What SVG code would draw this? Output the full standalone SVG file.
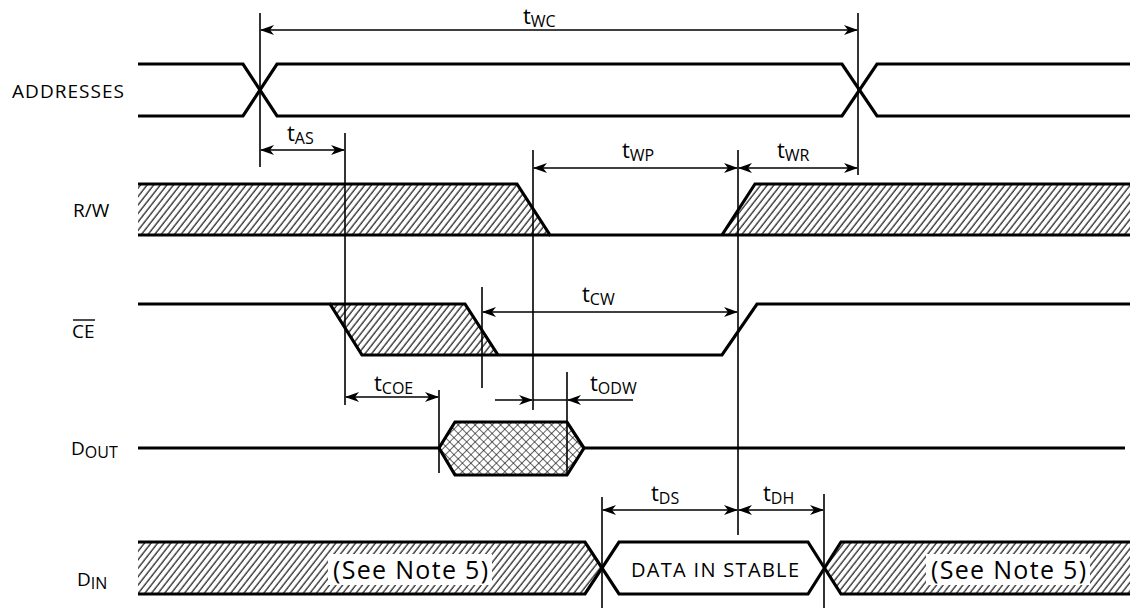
<svg xmlns="http://www.w3.org/2000/svg" width="1131" height="608" viewBox="0 0 1131 608">
<style>
.sig{fill:none;stroke:#000;stroke-width:3.2;stroke-linejoin:miter}
.vl{stroke:#000;stroke-width:1.6;fill:none}
.ar{stroke:#000;stroke-width:1.6;fill:none;marker-start:url(#ah);marker-end:url(#ah)}
.ae{stroke:#000;stroke-width:1.6;fill:none;marker-end:url(#ah)}
.lbl{font-family:"Open Sans","Liberation Sans",sans-serif;font-size:19px;fill:#000}
.t{font-family:"Open Sans","Liberation Sans",sans-serif;font-size:22px;fill:#000}
.sub{font-size:16px}
.note{font-family:"Open Sans","Liberation Sans",sans-serif;font-size:25px;fill:#000}
.data{font-family:"Open Sans","Liberation Sans",sans-serif;font-size:20px;fill:#000}
.hat{fill:url(#hatch);stroke:none}
</style>
<defs>
<pattern id="hatch" patternUnits="userSpaceOnUse" width="5.2" height="10" patternTransform="rotate(38)">
<line x1="1" y1="0" x2="1" y2="10" stroke="#000" stroke-width="1.1"/>
</pattern>
<pattern id="xhatch" patternUnits="userSpaceOnUse" width="6" height="6" patternTransform="rotate(45)">
<line x1="0" y1="0" x2="0" y2="6" stroke="#000" stroke-width="1.2"/>
<line x1="0" y1="0" x2="6" y2="0" stroke="#000" stroke-width="1.2"/>
</pattern>
<marker id="ah" viewBox="0 0 14 10" refX="13" refY="5" markerWidth="14" markerHeight="10" markerUnits="userSpaceOnUse" orient="auto-start-reverse">
<path d="M0,0 L14,5 L0,10 L4,5 z" fill="#000"/>
</marker>
</defs>

<g id="labels">
<text class="lbl" x="12" y="98" textLength="112" lengthAdjust="spacing">ADDRESSES</text>
<text class="lbl" x="73" y="217">R/W</text>
<g id="ce-label"><text class="lbl" x="72" y="338">CE</text><line x1="73" y1="320" x2="95" y2="320" stroke="#000" stroke-width="1.4"/></g>
<text class="lbl" x="71" y="455">D<tspan class="sub" dy="3">OUT</tspan></text>
<text class="lbl" x="77" y="586">D<tspan class="sub" dy="3">IN</tspan></text>
</g>

<g id="addresses">
<polyline class="sig" points="138,64 243,64 277,116 842,116 877,64 1130,64"/>
<polyline class="sig" points="138,116 243,116 277,64 842,64 877,116 1130,116"/>
</g>

<g id="rw">
<polygon class="hat" points="138,184 517,184 550,235 138,235"/>
<polygon class="hat" points="722,235 755,184 1130,184 1130,235"/>
<polyline class="sig" points="138,184 517,184 550,235 1130,235"/>
<polyline class="sig" points="722,235 755,184 1130,184"/>
<line class="sig" x1="138" y1="235" x2="550" y2="235"/>
</g>

<g id="ce">
<polygon class="hat" points="330,304 465,304 498,355 362,355"/>
<polyline class="sig" points="138,304 330,304 362,355 722,355 757,304 1130,304"/>
<polyline class="sig" points="330,304 465,304 498,355"/>
</g>

<g id="dout">
<polygon points="439,448 455,422 567,422 584,448 567,475 455,475" fill="url(#xhatch)" stroke="#000" stroke-width="3.2"/>
<line class="sig" x1="138" y1="448" x2="439" y2="448"/>
<line class="sig" x1="584" y1="448" x2="1125" y2="448"/>
</g>

<g id="din">
<polygon class="hat" points="138,542 585,542 602,568 585,594 138,594"/>
<polygon class="hat" points="824,568 841,542 1130,542 1130,594 841,594"/>
<rect x="328" y="554" width="164" height="31" fill="#fff"/>
<rect x="926" y="554" width="164" height="31" fill="#fff"/>
<polyline class="sig" points="138,542 585,542 619,594 808,594 841,542 1130,542"/>
<polyline class="sig" points="138,594 585,594 619,542 808,542 841,594 1130,594"/>
<text class="note" x="333" y="579" textLength="155" lengthAdjust="spacing">(See Note 5)</text>
<text class="note" x="931" y="579" textLength="155" lengthAdjust="spacing">(See Note 5)</text>
<text class="data" x="631" y="577" textLength="168" lengthAdjust="spacing">DATA IN STABLE</text>
</g>

<g id="connectors">
<line class="vl" x1="260" y1="13" x2="260" y2="167"/>
<line class="vl" x1="858" y1="13" x2="858" y2="175"/>
<line class="vl" x1="345" y1="133" x2="345" y2="405"/>
<line class="vl" x1="533" y1="150" x2="533" y2="410"/>
<line class="vl" x1="738" y1="150" x2="738" y2="535"/>
<line class="vl" x1="482" y1="287" x2="482" y2="388"/>
<line class="vl" x1="439" y1="390" x2="439" y2="473"/>
<line class="vl" x1="567" y1="372" x2="567" y2="475"/>
<line class="vl" x1="602" y1="497" x2="602" y2="608"/>
<line class="vl" x1="824" y1="494" x2="824" y2="608"/>

<line class="ar" x1="261" y1="30" x2="857" y2="30"/>
<line class="ar" x1="261" y1="150" x2="344" y2="150"/>
<line class="ar" x1="534" y1="168" x2="737" y2="168"/>
<line class="ar" x1="739" y1="168" x2="857" y2="168"/>
<line class="ar" x1="483" y1="312" x2="737" y2="312"/>
<line class="ar" x1="346" y1="397" x2="438" y2="397"/>
<line class="ae" x1="495" y1="400" x2="532" y2="400"/>
<line class="vl" x1="533" y1="400" x2="567" y2="400"/>
<line class="ae" x1="633" y1="400" x2="568" y2="400"/>
<line class="ar" x1="603" y1="510" x2="737" y2="510"/>
<line class="ar" x1="739" y1="510" x2="823" y2="510"/>
</g>

<g id="timing-labels">
<text class="t" x="523" y="24">t<tspan class="sub" dy="3">WC</tspan></text>
<text class="t" x="287" y="141">t<tspan class="sub" dy="3">AS</tspan></text>
<text class="t" x="622" y="158">t<tspan class="sub" dy="3">WP</tspan></text>
<text class="t" x="777" y="158">t<tspan class="sub" dy="3">WR</tspan></text>
<text class="t" x="582" y="302">t<tspan class="sub" dy="3">CW</tspan></text>
<text class="t" x="374" y="391">t<tspan class="sub" dy="3">COE</tspan></text>
<text class="t" x="590" y="391">t<tspan class="sub" dy="3">ODW</tspan></text>
<text class="t" x="651" y="501">t<tspan class="sub" dy="3">DS</tspan></text>
<text class="t" x="763" y="501">t<tspan class="sub" dy="3">DH</tspan></text>
</g>
</svg>
